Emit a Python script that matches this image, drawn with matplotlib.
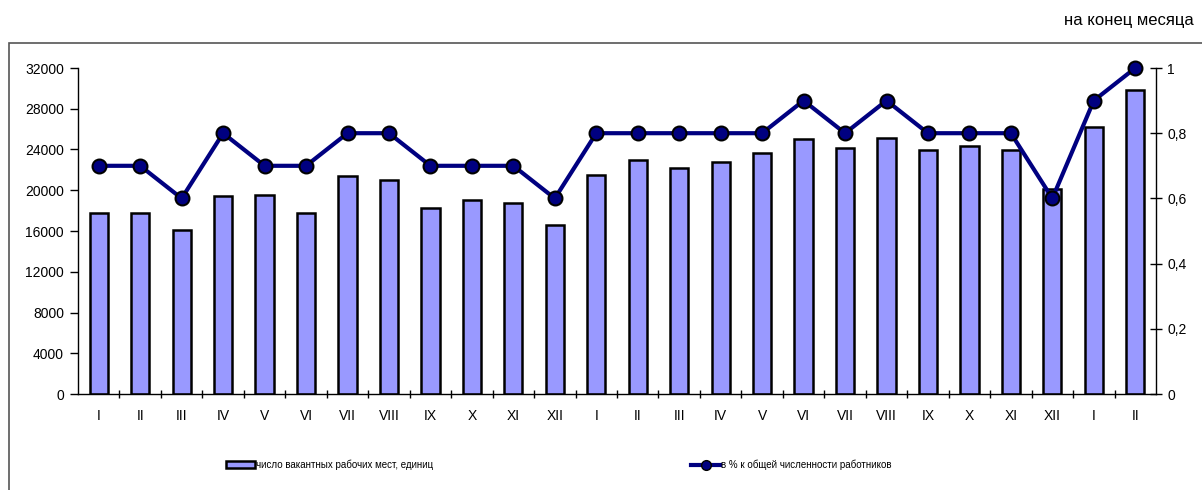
import matplotlib
matplotlib.use("Agg")
import matplotlib.pyplot as plt
from matplotlib import font_manager
from matplotlib.patches import Rectangle, Patch
from matplotlib.lines import Line2D
from matplotlib.ticker import FixedLocator, FuncFormatter

plt.rcParams["font.family"] = ["Liberation Sans", "DejaVu Sans"]

# -----------------------------
# Data
# -----------------------------
MONTHS = ["I", "II", "III", "IV", "V", "VI", "VII", "VIII", "IX", "X", "XI", "XII",
          "I", "II", "III", "IV", "V", "VI", "VII", "VIII", "IX", "X", "XI", "XII",
          "I", "II"]
VACANCIES = [17800, 17750, 16050, 19430, 19530, 17720, 21370, 21000, 18250, 19000,
             18700, 16600, 21530, 22940, 22150, 22810, 23660, 25040, 24150, 25140,
             23990, 24390, 23990, 20120, 26160, 29800]
SHARE_PCT = [0.7, 0.7, 0.6, 0.8, 0.7, 0.7, 0.8, 0.8, 0.7, 0.7, 0.7, 0.6,
             0.8, 0.8, 0.8, 0.8, 0.8, 0.9, 0.8, 0.9, 0.8, 0.8, 0.8, 0.6,
             0.9, 1.0]

LABEL_BARS = "число вакантных рабочих мест, единиц"
LABEL_LINE = "в % к общей численности работников"
NOTE = "на конец месяца"

BAR_COLOR = "#9999ff"
LINE_COLOR = "#000080"

# legend text in the original is narrow; use the narrow face if it is there
try:
    font_manager.findfont("Liberation Sans Narrow", fallback_to_default=False)
    legend_font = {"family": ["Liberation Sans Narrow", "DejaVu Sans"], "size": 9}
except ValueError:
    legend_font = {"family": ["Liberation Sans", "DejaVu Sans"], "size": 7}

# -----------------------------
# Figure
# -----------------------------
fig = plt.figure(figsize=(12.02, 4.90), dpi=100)

# outer chart frame
fig.patches.append(Rectangle((9 / 1202, -0.05), 1.2, 1 - 43 / 490 + 0.05,
                             transform=fig.transFigure, fill=False,
                             edgecolor="#555555", linewidth=1.2))
fig.text(1194 / 1202, 1 - 21 / 490, NOTE, ha="right", va="center", fontsize=12)

ax = fig.add_axes([78 / 1202, 96 / 490, (1156 - 78) / 1202, (394 - 68) / 490])
x = list(range(len(MONTHS)))

ax.bar(x, VACANCIES, width=0.44, color=BAR_COLOR, edgecolor="black", linewidth=1.8, zorder=2)
ax.set_xlim(-0.5, len(MONTHS) - 0.5)
ax.set_ylim(0, 32000)
ax.set_yticks(range(0, 32001, 4000))
ax.set_xticks(x)
ax.set_xticklabels(MONTHS)
ax.xaxis.set_minor_locator(FixedLocator([i + 0.5 for i in range(len(MONTHS) - 1)]))
ax.tick_params(axis="x", which="major", length=0, pad=11, labelsize=10)
ax.tick_params(axis="x", which="minor", length=6, direction="inout", width=1)
ax.tick_params(axis="y", length=6, direction="out", width=1, labelsize=10, pad=4)
for side in ["top", "right"]:
    ax.spines[side].set_visible(False)
ax.spines["left"].set_linewidth(1)
ax.spines["bottom"].set_linewidth(1)

ax2 = ax.twinx()
ax2.plot(x, SHARE_PCT, color=LINE_COLOR, linewidth=3, marker="o", markersize=10,
         markerfacecolor=LINE_COLOR, markeredgecolor="black", markeredgewidth=1.5,
         clip_on=False, zorder=3)
ax2.set_ylim(0, 1)
ax2.set_yticks([0, 0.2, 0.4, 0.6, 0.8, 1.0])
ax2.yaxis.set_major_formatter(FuncFormatter(lambda v, p: f"{v:g}".replace(".", ",")))
ax2.tick_params(axis="y", length=8, direction="inout", width=1, labelsize=10, pad=4)
for side in ["top", "left", "bottom"]:
    ax2.spines[side].set_visible(False)
ax2.spines["right"].set_linewidth(1)

# -----------------------------
# Legend
# -----------------------------
bar_handle = Patch(facecolor=BAR_COLOR, edgecolor="black", linewidth=1.8)
line_handle = Line2D([], [], color=LINE_COLOR, linewidth=3, marker="o", markersize=7,
                     markerfacecolor=LINE_COLOR, markeredgecolor="black")
leg1 = fig.legend([bar_handle], [LABEL_BARS], loc="center left",
                  bbox_to_anchor=(226 / 1202, 1 - 465 / 490), frameon=False, prop=legend_font,
                  handlelength=3.0, handleheight=0.7, handletextpad=0.1, borderpad=0,
                  borderaxespad=0)
leg2 = fig.legend([line_handle], [LABEL_LINE], loc="center left",
                  bbox_to_anchor=(691 / 1202, 1 - 465 / 490), frameon=False, prop=legend_font,
                  handlelength=3.0, handletextpad=0.1, borderpad=0, borderaxespad=0)

fig.savefig("out.png", dpi=100)
plt.close(fig)
